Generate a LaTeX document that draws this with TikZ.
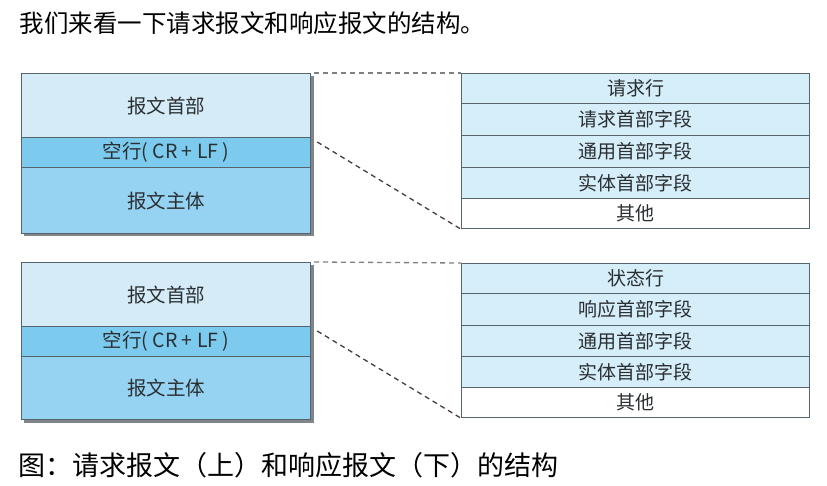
\documentclass[tikz,border=0pt]{standalone}
\usepackage{fontspec}
\newfontfamily\cjk{Noto Sans CJK SC}
\definecolor{hdrblue}{HTML}{D5ECF8}
\definecolor{blkblue}{HTML}{7CCAEE}
\definecolor{bdyblue}{HTML}{96D2F1}
\definecolor{rowblue}{HTML}{D6EEF9}
\definecolor{edgegray}{HTML}{55656B}
\definecolor{shadowgray}{HTML}{7F8588}
\definecolor{txtgray}{HTML}{2A2F32}
\begin{document}
\begin{tikzpicture}[x=1pt,y=-1pt,
  cell/.style={draw=edgegray,line width=1.2pt,rectangle,inner sep=0pt,anchor=north west,
    font=\cjk\fontsize{19}{21}\selectfont,text=txtgray},
  lcell/.style={cell,minimum width=289pt,font=\cjk\fontsize{19.5}{21}\selectfont},
  rcell/.style={cell,minimum width=348pt,minimum height=31pt,fill=rowblue},
  guide/.style={dashed,dash pattern=on 5pt off 4pt,line width=1.3pt}]
\useasboundingbox (0,0) rectangle (827,486);
\fill[white] (0,0) rectangle (827,486);
\node[anchor=west,font=\cjk\fontsize{24.5}{26}\selectfont] (intro) at (16,23) {我们来看一下请求报文和响应报文的结构。};
% top group
\fill[shadowgray] (24,76) rectangle (313.5,236.5);
\node[lcell,minimum height=64pt,fill=hdrblue] (hdr1) at (21,73) {\raisebox{-2pt}{报文首部}};
\node[lcell,minimum height=30pt,fill=blkblue] (blk1) at (21,137) {空行( CR + LF )};
\node[lcell,minimum height=66pt,fill=bdyblue] (bdy1) at (21,167) {报文主体};
\node[rcell,minimum height=30pt] (r11) at (461,73) {请求行};
\node[rcell,minimum height=32pt] (r12) at (461,103) {请求首部字段};
\node[rcell,minimum height=32pt] (r13) at (461,135) {通用首部字段};
\node[rcell] (r14) at (461,167) {实体首部字段};
\node[rcell,minimum height=30pt,fill=white] (r15) at (461,198) {其他};
\draw[guide,color=gray] ([xshift=3pt]hdr1.north east) -- (r11.north west);
\draw[guide,color=black!75] ([xshift=6pt,yshift=-5pt]blk1.north east) -- (r15.south west);
% bottom group
\fill[shadowgray] (24,265) rectangle (313.5,422.5);
\node[lcell,minimum height=64pt,fill=hdrblue] (hdr2) at (21,262) {\raisebox{-2pt}{报文首部}};
\node[lcell,minimum height=30pt,fill=blkblue] (blk2) at (21,326) {空行( CR + LF )};
\node[lcell,minimum height=63pt,fill=bdyblue] (bdy2) at (21,356) {报文主体};
\node[rcell,minimum height=30pt] (r21) at (461,263) {状态行};
\node[rcell,minimum height=32pt] (r22) at (461,293) {响应首部字段};
\node[rcell,minimum height=31pt] (r23) at (461,325) {通用首部字段};
\node[rcell,minimum height=31pt] (r24) at (461,356) {实体首部字段};
\node[rcell,minimum height=30pt,fill=white] (r25) at (461,387) {其他};
\draw[guide,color=gray] ([xshift=3pt]hdr2.north east) -- (r21.north west);
\draw[guide,color=black!75] ([xshift=6pt,yshift=-5pt]blk2.north east) -- (r25.south west);
\node[anchor=west,font=\cjk\fontsize{27}{29}\selectfont] (caption) at (15,465) {图：请求报文（上）和响应报文（下）的结构};
\end{tikzpicture}
\end{document}
